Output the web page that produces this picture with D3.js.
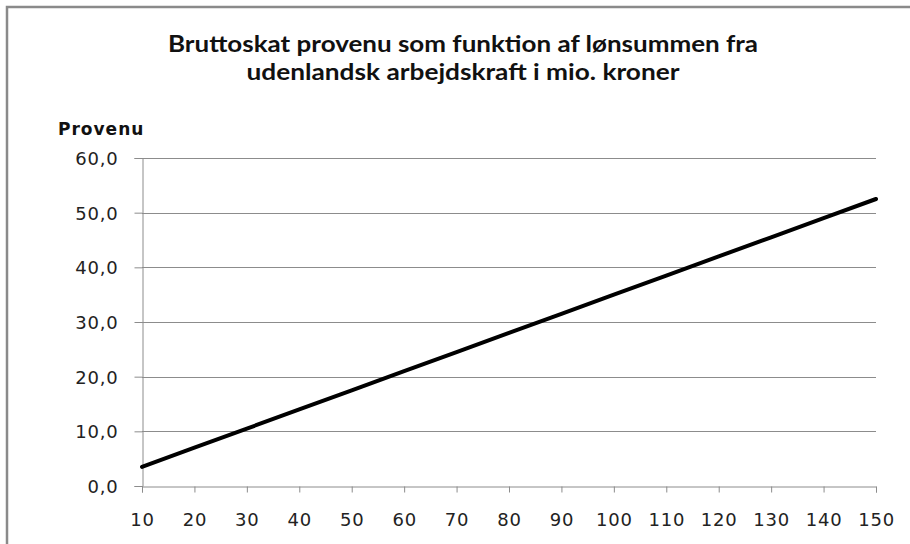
<!DOCTYPE html>
<html>
<head>
<meta charset="utf-8">
<script src="https://cdn.jsdelivr.net/npm/d3@7"></script>
<style>
  body { margin: 0; background: #fff; }
  svg { display: block; }
</style>
</head>
<body>
<svg id="chart"></svg>
<script>
// data
const lonsum = [10, 20, 30, 40, 50, 60, 70, 80, 90, 100, 110, 120, 130, 140, 150];
const provenu = [3.5, 7.0, 10.5, 14.0, 17.5, 21.0, 24.5, 28.0, 31.5, 35.0, 38.5, 42.0, 45.5, 49.0, 52.5];
const yTicks = [0, 10, 20, 30, 40, 50, 60];
const titleLines = ["Bruttoskat provenu som funktion af lønsummen fra", "udenlandsk arbejdskraft i mio. kroner"];
const yLabel = "Provenu";

const width = 910, height = 544;
const margin = {left: 142, right: 34, top: 158, bottom: 58};

const svg = d3.select("#chart")
    .attr("width", width)
    .attr("height", height);

// outer frame (right and bottom edges run off the picture)
svg.append("path")
    .attr("d", `M7,${height + 2} V7 H${width + 2}`)
    .attr("fill", "none")
    .attr("stroke", "#8a8a8a")
    .attr("stroke-width", 2.5);

const x = d3.scaleLinear().domain([10, 150]).range([margin.left, width - margin.right]);
const y = d3.scaleLinear().domain([0, 60]).range([height - margin.bottom, margin.top]);

// gridlines
svg.append("g")
    .selectAll("line")
    .data(yTicks.filter(d => d > 0))
    .enter().append("line")
    .attr("x1", x(10)).attr("x2", x(150))
    .attr("y1", d => Math.round(y(d)) + 0.5)
    .attr("y2", d => Math.round(y(d)) + 0.5)
    .attr("stroke", "#8c8c8c")
    .attr("stroke-width", 1);

const fmt = d => d3.format(".1f")(d).replace(".", ",");

const yAxis = svg.append("g")
    .attr("transform", `translate(${Math.round(x(10)) + 0.5},0)`)
    .call(d3.axisLeft(y).tickValues(yTicks).tickSize(8).tickPadding(16).tickFormat(fmt));

const xAxis = svg.append("g")
    .attr("transform", `translate(0,${Math.round(y(0)) + 0.5})`)
    .call(d3.axisBottom(x).tickValues(lonsum).tickSize(6).tickPadding(21).tickFormat(d3.format("d")));

[yAxis, xAxis].forEach(a => {
    a.select(".domain").attr("stroke", "#8c8c8c");
    a.selectAll(".tick line").attr("stroke", "#8c8c8c");
    a.selectAll("text")
        .attr("fill", "#222")
        .style("font-family", "'DejaVu Sans', Verdana, sans-serif")
        .style("font-size", "18px")
        .style("letter-spacing", "0.8px");
});
yAxis.selectAll("text").attr("dy", "0.36em");

// series line
const line = d3.line()
    .x((d, i) => x(lonsum[i]))
    .y(d => y(d));

svg.append("path")
    .datum(provenu)
    .attr("d", line)
    .attr("fill", "none")
    .attr("stroke", "#000")
    .attr("stroke-width", 4)
    .attr("stroke-linecap", "round");

// titles
const titleWidths = [590, 433];
svg.append("g")
    .selectAll("text")
    .data(titleLines)
    .enter().append("text")
    .attr("x", 463)
    .attr("y", (d, i) => 52 + i * 28)
    .attr("text-anchor", "middle")
    .attr("textLength", (d, i) => titleWidths[i])
    .attr("lengthAdjust", "spacingAndGlyphs")
    .style("font-family", "Lato, 'Open Sans', sans-serif")
    .style("font-weight", "bold")
    .style("font-size", "22px")
    .attr("fill", "#111")
    .text(d => d);

svg.append("text")
    .attr("x", 58)
    .attr("y", 135)
    .style("font-family", "'DejaVu Sans', Verdana, sans-serif")
    .style("font-weight", "bold")
    .style("font-size", "17px")
    .style("letter-spacing", "1px")
    .attr("fill", "#111")
    .text(yLabel);
</script>
</body>
</html>
